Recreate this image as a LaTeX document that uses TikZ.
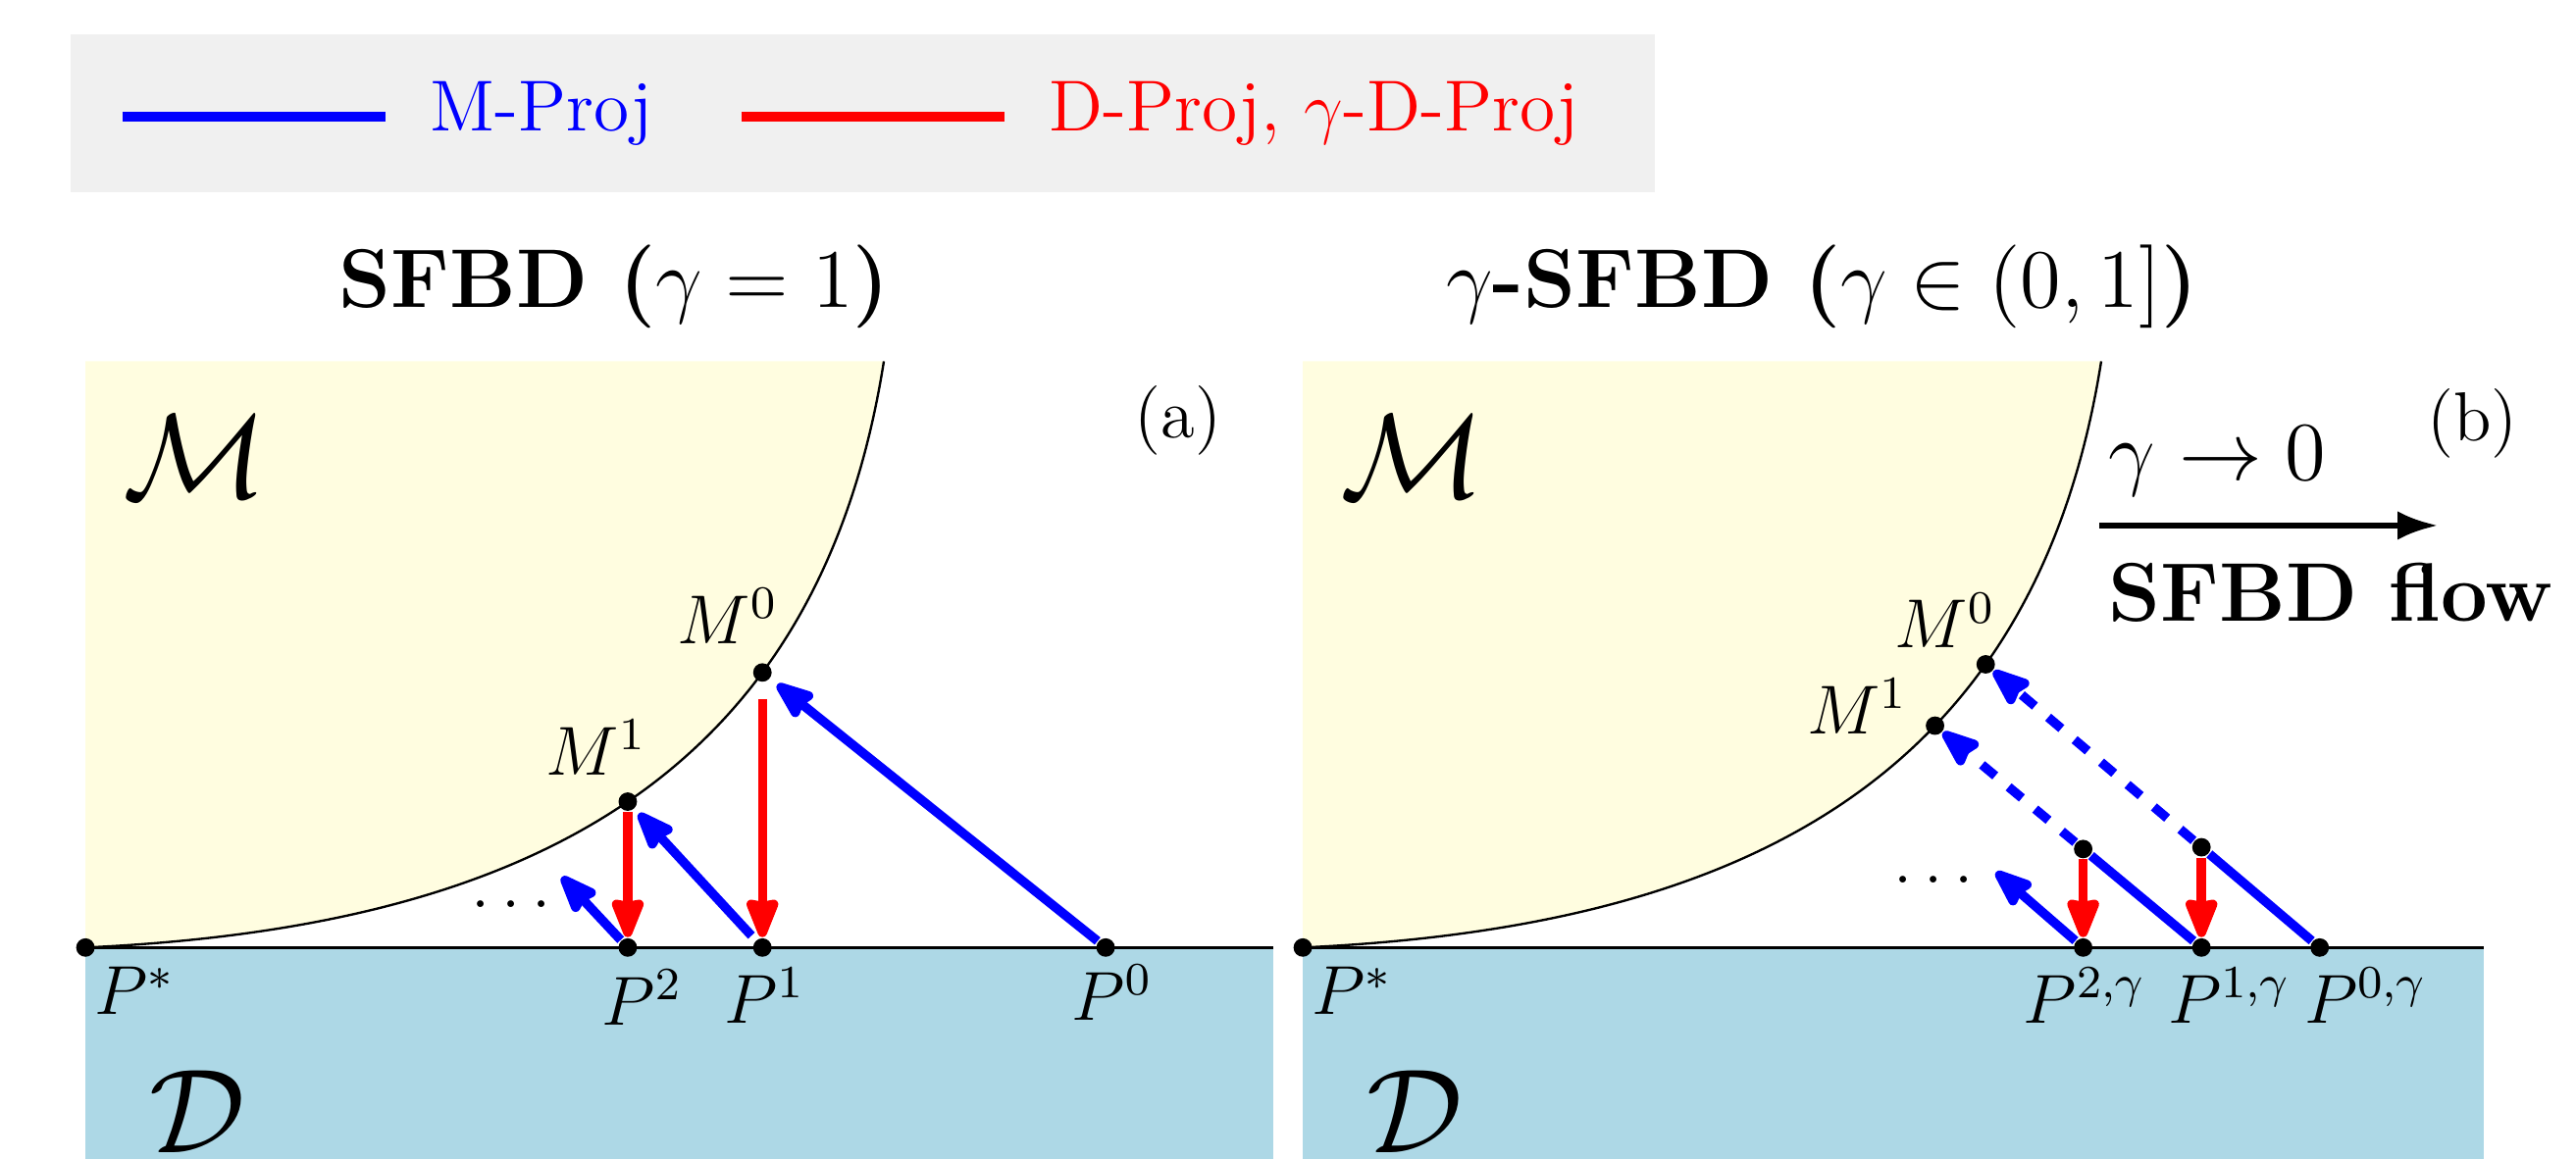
\documentclass[tikz,border=0pt]{standalone}
\usepackage{amsmath,amssymb}
\usetikzlibrary{arrows.meta,calc}
\definecolor{mfill}{RGB}{255,253,224}
\definecolor{dfill}{RGB}{173,216,230}
\definecolor{legendgrey}{RGB}{240,240,240}
\pgfdeclarelayer{back}
\pgfdeclarelayer{mid}
\pgfsetlayers{back,mid,main}
\tikzset{
    pt/.style={circle, fill=black, inner sep=0pt, minimum size=3.2pt},
    lbl/.style={inner sep=0pt, font=\large},
    calname/.style={inner sep=0pt, font=\huge, anchor=base},
    paneltitle/.style={inner sep=0pt, font=\Large, anchor=base},
    legtext/.style={inner sep=0pt, anchor=base west, font=\fontsize{12.5}{15}\selectfont},
    legline/.style={line width=1.8pt},
}

\begin{document}
\begin{tikzpicture}[x=0.01cm, y=-0.01cm,
    mline/.style={blue, line width=1.6pt},
    mproj/.style={mline, -{Stealth[length=8pt, width=6pt, inset=0.8pt, round]}},
    dproj/.style={red, line width=1.6pt, -{Stealth[length=8pt, width=6pt, inset=0.4pt, round]}},
    flow/.style={line width=1.1pt, -{Latex[length=7pt, width=5pt]}}
]
    \useasboundingbox (0,0) rectangle (1568,706);

    % legend
    \node[fill=legendgrey, inner sep=0pt, minimum width=9.64cm, minimum height=0.96cm] (legend) at (525,69) {};
    \coordinate (lgb1) at (74.5,71);
    \coordinate (lgb2) at (234.4,71);
    \coordinate (lgr1) at (451.3,71);
    \coordinate (lgr2) at (611.3,71);
    \draw[legline, blue] (lgb1) -- (lgb2);
    \draw[legline, red] (lgr1) -- (lgr2);
    \node[legtext, text=blue] (lgmtext) at (261,80) {M-Proj};
    \node[legtext, text=red] (lgdtext) at (638,80) {D-Proj, $\gamma$-D-Proj};

    % the two panels: regions, boundary curve, P*
    \foreach \dx/\p/\xr/\ta/\tb in {0/a/775/0.51/0.70, 741/b/771/0.63/0.71} {
        \begin{scope}[xshift={\dx*0.01cm}]
            \begin{pgfonlayer}{back}
                \fill[mfill] (52,577) .. controls (312,565) and (497,480) .. (538,220) -- (52,220) -- cycle;
                \fill[dfill] (52,577) rectangle (\xr,706);
                \draw (52,577) -- (\xr,577);
                \draw (52,577) .. controls (312,565) and (497,480) .. coordinate[pos=\ta] (M1-\p) coordinate[pos=\tb] (M0-\p) (538,220);
            \end{pgfonlayer}
            \node[pt] (ps\p) at (52,577) {};
            \node[pt] (m0\p) at (M0-\p) {};
            \node[pt] (m1\p) at (M1-\p) {};
            \node[calname] (cM\p) at (119,303) {$\mathcal{M}$};
            \node[calname] (cD\p) at (120,702) {$\mathcal{D}$};
            \node[lbl, anchor=base west] (lps\p) at (57,618) {$P^*$};
        \end{scope}
    }

    % (a) SFBD
    \node[paneltitle] (titlea) at (374,187) {\textbf{SFBD ($\gamma = 1$)}};
    \node[lbl] (taga) at (717,256) {(a)};
    \node[pt] (p1a) at (m0a |- psa) {};
    \node[pt] (p2a) at (m1a |- psa) {};
    \node[pt] (p0a) at (673,577) {};
    \coordinate (tipa) at (342,534);
    \node[lbl, anchor=base] (lm0a) at (443,392) {$M^0$};
    \node[lbl, anchor=base] (lm1a) at (363,472) {$M^1$};
    \node[lbl, anchor=base] (lp2a) at (391,624) {$P^2$};
    \node[lbl, anchor=base] (lp1a) at (465.5,623) {$P^1$};
    \node[lbl, anchor=base] (lp0a) at (677,621) {$P^0$};
    \node[lbl, anchor=base] (dotsa) at (311,552.5) {$\ldots$};

    \begin{pgfonlayer}{mid}
        \draw[mproj, shorten >=1.5pt] (p0a) -- (m0a);
        \draw[mproj, shorten <=1pt, shorten >=1pt] (p1a) -- (m1a);
        \draw[mproj] (p2a) -- (tipa);
        \draw[dproj, shorten <=2.8pt] (m0a) -- (p1a);
        \draw[dproj] (m1a) -- (p2a);
    \end{pgfonlayer}

    % (b) gamma-SFBD
    \node[paneltitle] (titleb) at (1109,187) {\textbf{$\gamma$-SFBD ($\gamma \in (0,1]$)}};
    \node[lbl] (tagb) at (1505,258) {(b)};
    \node[pt] (p0b) at (1412,577) {};
    \node[pt] (q0b) at ($(p0b)!0.354!(m0b)$) {};
    \node[pt] (p1b) at (q0b |- psb) {};
    \node[pt] (q1b) at ($(p1b)!0.444!(m1b)$) {};
    \node[pt] (p2b) at (q1b |- psb) {};
    \coordinate (tipb) at (1215,531);
    \node[lbl, anchor=base] (lm0b) at (1184,394.5) {$M^0$};
    \node[lbl, anchor=base] (lm1b) at (1130.5,447) {$M^1$};
    \node[lbl, anchor=base west] (lp2b) at (1231,623) {$P^{2,\gamma}$};
    \node[lbl, anchor=base west] (lp1b) at (1319,623) {$P^{1,\gamma}$};
    \node[lbl, anchor=base west] (lp0b) at (1402,623) {$P^{0,\gamma}$};
    \node[lbl, anchor=base] (dotsb) at (1177,537.5) {$\ldots$};

    \begin{pgfonlayer}{mid}
        \draw[mline] (p0b) -- (q0b);
        \draw[mproj, dashed] (q0b) -- (m0b);
        \draw[mline] (p1b) -- (q1b);
        \draw[mproj, dashed] (q1b) -- (m1b);
        \draw[mproj] (p2b) -- (tipb);
        \draw[dproj] (q0b) -- (p1b);
        \draw[dproj] (q1b) -- (p2b);
    \end{pgfonlayer}

    % limit gamma -> 0
    \coordinate (flowL) at (1278,320);
    \coordinate (flowR) at (1484,320);
    \draw[flow] (flowL) -- (flowR);
    \node[inner sep=0pt, anchor=base west, font=\Large] (gamlim) at (1283,292.5) {$\gamma \to 0$};
    \node[inner sep=0pt, anchor=base west, font=\Large\bfseries] (flowtxt) at (1283,378) {SFBD flow};
\end{tikzpicture}
\end{document}
